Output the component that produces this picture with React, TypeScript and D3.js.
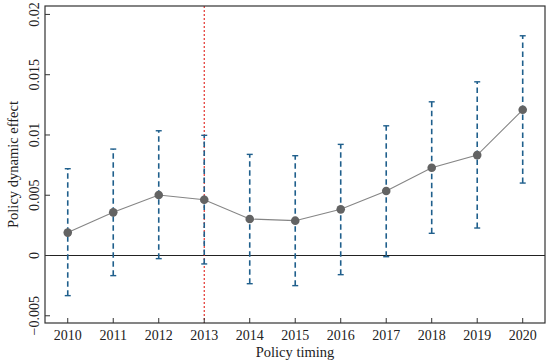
import React from "react";
import * as d3 from "d3";

const years = [2010, 2011, 2012, 2013, 2014, 2015, 2016, 2017, 2018, 2019, 2020];
const estimates = [0.0019, 0.00358, 0.00502, 0.00463, 0.00303, 0.00289, 0.00383, 0.00535, 0.00728, 0.00833, 0.01209];
const upper = [0.0072, 0.00883, 0.01035, 0.00997, 0.00839, 0.00828, 0.00922, 0.01076, 0.01275, 0.01441, 0.01823];
const lower = [-0.00333, -0.00167, -0.00026, -0.0007, -0.00234, -0.0025, -0.00159, -0.0001, 0.00184, 0.00228, 0.00601];
const yTicks = [-0.005, 0, 0.005, 0.01, 0.015, 0.02];
const yTickLabels = ["\u22120.005", "0", "0.005", "0.01", "0.015", "0.02"];
const policyYear = 2013;

export default function App() {
  const W = 550, H = 364;
  const L = 45, R = 545, T = 6, B = 323;
  const x = d3.scaleLinear().domain([2009.5, 2020.49]).range([L, R]);
  const y = d3.scaleLinear().domain([-0.0056, 0.0207]).range([B, T]);
  const line = d3.line<number>().x((_, i) => x(years[i])).y((d) => y(d));
  const font = "Liberation Serif, Times New Roman, serif";
  const ebColor = "#1f5f8c";
  return (
    <svg width={W} height={H} style={{ position: "absolute", left: 0, top: 0, background: "#fff" }} fontFamily={font}>
      <line x1={L} x2={R} y1={y(0)} y2={y(0)} stroke="#222" strokeWidth={1.1} />
      <line x1={x(policyYear)} x2={x(policyYear)} y1={T} y2={B} stroke="#e0201a" strokeWidth={1.1} strokeDasharray="2,2" />
      {years.map((yr, i) => (
        <g key={yr}>
          <line x1={x(yr)} x2={x(yr)} y1={y(lower[i])} y2={y(upper[i])} stroke={ebColor} strokeWidth={1.6} strokeDasharray="5.5,3.5" />
          <line x1={x(yr) - 3} x2={x(yr) + 3} y1={y(upper[i])} y2={y(upper[i])} stroke={ebColor} strokeWidth={1.4} />
          <line x1={x(yr) - 3} x2={x(yr) + 3} y1={y(lower[i])} y2={y(lower[i])} stroke={ebColor} strokeWidth={1.4} />
        </g>
      ))}
      <path d={line(estimates) || ""} fill="none" stroke="#858585" strokeWidth={1.1} />
      {years.map((yr, i) => (
        <circle key={yr} cx={x(yr)} cy={y(estimates[i])} r={4.3} fill="#636363" />
      ))}
      <rect x={L} y={T} width={R - L} height={B - T} fill="none" stroke="#333" strokeWidth={1.2} />
      {yTicks.map((t, i) => (
        <g key={t}>
          <line x1={L} x2={L + 5} y1={y(t)} y2={y(t)} stroke="#333" strokeWidth={1} />
          <text transform={`translate(${L - 6},${y(t)}) rotate(-90)`} textAnchor="middle" fontSize={14} fill="#222">
            {yTickLabels[i]}
          </text>
        </g>
      ))}
      {years.map((yr) => (
        <g key={yr}>
          <line x1={x(yr)} x2={x(yr)} y1={B} y2={B - 5} stroke="#333" strokeWidth={1} />
          <text x={x(yr)} y={B + 17} textAnchor="middle" fontSize={14} fill="#222">{yr}</text>
        </g>
      ))}
      <text x={(L + R) / 2} y={357} textAnchor="middle" fontSize={14.5} fill="#222">Policy timing</text>
      <text transform={`translate(18,${(T + B) / 2}) rotate(-90)`} textAnchor="middle" fontSize={14.5} fill="#222">
        Policy dynamic effect
      </text>
    </svg>
  );
}
